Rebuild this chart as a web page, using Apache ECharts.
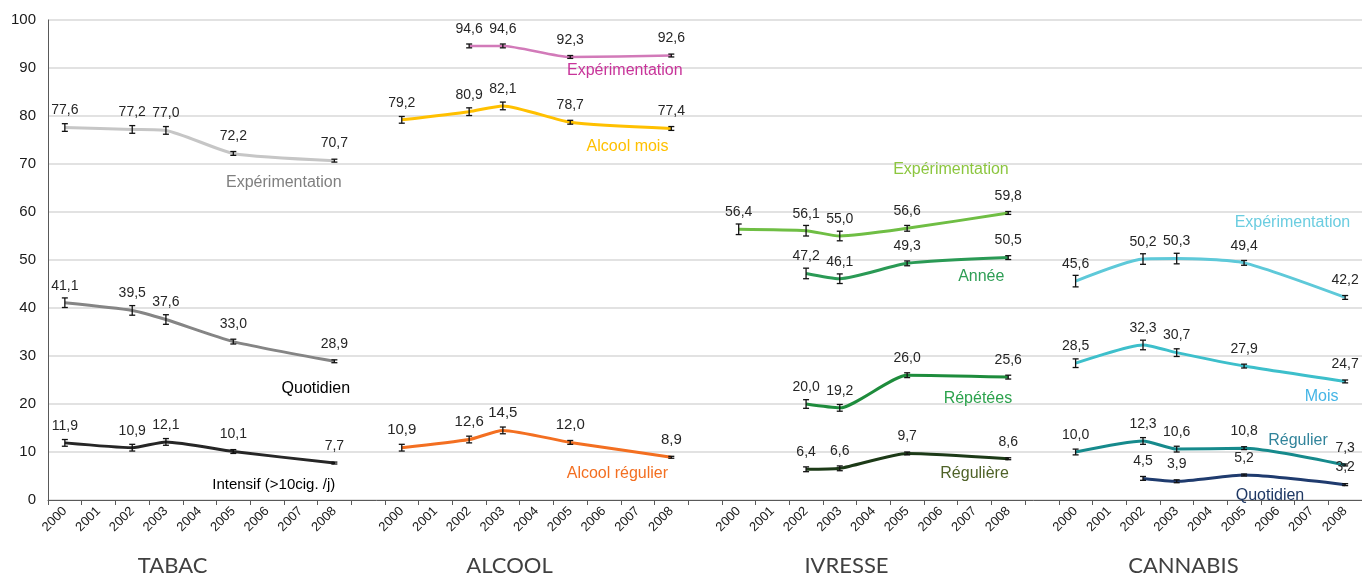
<!DOCTYPE html>
<html>
<head>
<meta charset="utf-8">
<script src="https://cdn.jsdelivr.net/npm/echarts@6/dist/echarts.min.js"></script>
<style>
  html, body { margin: 0; padding: 0; background: #fff; }
  #chart { width: 1362px; height: 579px; }
</style>
</head>
<body>
<div id="chart"></div>
<script>
// axes
var years = ['2000', '2001', '2002', '2003', '2004', '2005', '2006', '2007', '2008'];
var blocks = ['TABAC', 'ALCOOL', 'IVRESSE', 'CANNABIS'];
var yTicks = [0, 10, 20, 30, 40, 50, 60, 70, 80, 90, 100];

// values per year (null = no survey)
var tabacExp = [77.6, null, 77.2, 77.0, null, 72.2, null, null, 70.7];
var tabacQuot = [41.1, null, 39.5, 37.6, null, 33.0, null, null, 28.9];
var tabacInt = [11.9, null, 10.9, 12.1, null, 10.1, null, null, 7.7];
var alcExp = [null, null, 94.6, 94.6, null, 92.3, null, null, 92.6];
var alcMois = [79.2, null, 80.9, 82.1, null, 78.7, null, null, 77.4];
var alcReg = [10.9, null, 12.6, 14.5, null, 12.0, null, null, 8.9];
var ivrExp = [56.4, null, 56.1, 55.0, null, 56.6, null, null, 59.8];
var ivrAnnee = [null, null, 47.2, 46.1, null, 49.3, null, null, 50.5];
var ivrRep = [null, null, 20.0, 19.2, null, 26.0, null, null, 25.6];
var ivrReg = [null, null, 6.4, 6.6, null, 9.7, null, null, 8.6];
var canExp = [45.6, null, 50.2, 50.3, null, 49.4, null, null, 42.2];
var canMois = [28.5, null, 32.3, 30.7, null, 27.9, null, null, 24.7];
var canReg = [10.0, null, 12.3, 10.6, null, 10.8, null, null, 7.3];
var canQuot = [null, null, 4.5, 3.9, null, 5.2, null, null, 3.2];

// confidence half-widths (estimated)
var tabacExpErr = [0.8, null, 0.8, 0.8, null, 0.4, null, null, 0.3];
var tabacQuotErr = [1.0, null, 1.0, 1.0, null, 0.5, null, null, 0.3];
var tabacIntErr = [0.7, null, 0.7, 0.7, null, 0.4, null, null, 0.2];
var alcExpErr = [null, null, 0.4, 0.4, null, 0.3, null, null, 0.3];
var alcMoisErr = [0.7, null, 0.8, 0.8, null, 0.4, null, null, 0.4];
var alcRegErr = [0.7, null, 0.7, 0.7, null, 0.4, null, null, 0.2];
var ivrExpErr = [1.1, null, 1.1, 1.0, null, 0.6, null, null, 0.3];
var ivrAnneeErr = [null, null, 1.1, 1.0, null, 0.5, null, null, 0.4];
var ivrRepErr = [null, null, 0.9, 0.7, null, 0.5, null, null, 0.4];
var ivrRegErr = [null, null, 0.5, 0.5, null, 0.3, null, null, 0.2];
var canExpErr = [1.2, null, 1.1, 1.1, null, 0.5, null, null, 0.4];
var canMoisErr = [0.9, null, 1.0, 0.8, null, 0.4, null, null, 0.3];
var canRegErr = [0.6, null, 0.7, 0.6, null, 0.3, null, null, 0.2];
var canQuotErr = [null, null, 0.4, 0.3, null, 0.2, null, null, 0.2];

// series setup: block index, values, errors, look, where the name goes (data coords)
var lines = [
  {name: 'Expérimentation', block: 0, v: tabacExp, e: tabacExpErr, color: '#c6c6c6', txt: '#7f7f7f', at: [6.5, 66.2]},
  {name: 'Quotidien', block: 0, v: tabacQuot, e: tabacQuotErr, color: '#858585', txt: '#000', at: [7.45, 23.3]},
  {name: 'Intensif (>10cig. /j)', block: 0, v: tabacInt, e: tabacIntErr, color: '#262626', txt: '#000', at: [6.2, 3.1], fs: 15},
  {name: 'Expérimentation', block: 1, v: alcExp, e: alcExpErr, color: '#d27ab9', txt: '#c8349a', at: [16.62, 89.4], w: 2.5},
  {name: 'Alcool mois', block: 1, v: alcMois, e: alcMoisErr, color: '#ffc000', txt: '#ffc000', at: [16.7, 73.6]},
  {name: 'Alcool régulier', block: 1, v: alcReg, e: alcRegErr, color: '#f36f21', txt: '#f36f21', at: [16.4, 5.6], lfs: 15},
  {name: 'Expérimentation', block: 2, v: ivrExp, e: ivrExpErr, color: '#6fbe44', txt: '#8cc63f', at: [26.3, 68.9]},
  {name: 'Année', block: 2, v: ivrAnnee, e: ivrAnneeErr, color: '#2a9a55', txt: '#2e9e55', at: [27.2, 46.5]},
  {name: 'Répétées', block: 2, v: ivrRep, e: ivrRepErr, color: '#1e8c3c', txt: '#2ba24c', at: [27.1, 21.2]},
  {name: 'Régulière', block: 2, v: ivrReg, e: ivrRegErr, color: '#1c3a17', txt: '#4f6228', at: [27.0, 5.6]},
  {name: 'Expérimentation', block: 3, v: canExp, e: canExpErr, color: '#5ec9d9', txt: '#6bcde0', at: [34.72, 57.8], align: 'left'},
  {name: 'Mois', block: 3, v: canMois, e: canMoisErr, color: '#3dbfcb', txt: '#45b5e6', at: [37.3, 21.5]},
  {name: 'Régulier', block: 3, v: canReg, e: canRegErr, color: '#168a8c', txt: '#31849b', at: [36.6, 12.3]},
  {name: 'Quotidien', block: 3, v: canQuot, e: canQuotErr, color: '#1f3b6e', txt: '#1f3864', at: [35.77, 1.0]}
];

// one empty slot between blocks
var categories = [];
blocks.forEach(function (b, i) {
  years.forEach(function (y) { categories.push(y); });
  if (i < blocks.length - 1) categories.push('');
});
var slot = years.length + 1;

function fmt(v) { return v.toFixed(1).replace('.', ','); }

var series = [];
var errData = [];
lines.forEach(function (s) {
  var data = categories.map(function () { return null; });
  s.v.forEach(function (val, k) {
    if (val == null) return;
    data[s.block * slot + k] = val;
    errData.push([s.block * slot + k, val, s.e[k]]);
  });
  series.push({
    type: 'line',
    name: s.name,
    data: data,
    connectNulls: true,
    smooth: 0.2,
    symbol: 'circle',
    symbolSize: 0,
    lineStyle: {color: s.color, width: s.w || 3},
    itemStyle: {color: s.color},
    label: {
      show: true, position: 'top', distance: 10,
      color: '#262626', fontSize: s.lfs || 14,
      fontFamily: 'Liberation Sans',
      formatter: function (p) { return fmt(p.value); }
    },
    z: 2
  });
});

// error bars
series.push({
  type: 'custom',
  data: errData,
  z: 5,
  silent: true,
  renderItem: function (params, api) {
    var x = api.value(0), v = api.value(1), e = api.value(2);
    var top = api.coord([x, v + e]);
    var bot = api.coord([x, v - e]);
    var st = {stroke: '#111', lineWidth: 1.3};
    return {
      type: 'group',
      children: [
        {type: 'line', shape: {x1: top[0], y1: top[1], x2: bot[0], y2: bot[1]}, style: st},
        {type: 'line', shape: {x1: top[0] - 3, y1: top[1], x2: top[0] + 3, y2: top[1]}, style: st},
        {type: 'line', shape: {x1: bot[0] - 3, y1: bot[1], x2: bot[0] + 3, y2: bot[1]}, style: st}
      ]
    };
  }
});

var myChart = echarts.init(document.getElementById('chart'));
var option = {
  backgroundColor: '#fff',
  animation: false,
  textStyle: {fontFamily: 'Liberation Sans'},
  grid: {left: 48, top: 20, right: -1, bottom: 79},
  xAxis: {
    type: 'category',
    data: categories,
    boundaryGap: true,
    axisLine: {lineStyle: {color: '#595959', width: 1}},
    axisTick: {show: true, interval: 0, length: 5, lineStyle: {color: '#595959'}},
    axisLabel: {interval: 0, rotate: 45, fontSize: 13, fontFamily: 'Liberation Sans', color: '#1a1a1a', margin: 9},
    splitLine: {show: false}
  },
  yAxis: {
    type: 'value',
    min: yTicks[0],
    max: yTicks[yTicks.length - 1],
    interval: yTicks[1] - yTicks[0],
    axisLine: {show: true, lineStyle: {color: '#595959'}},
    axisTick: {show: false},
    axisLabel: {fontSize: 15, fontFamily: 'Liberation Sans', color: '#1a1a1a', margin: 12},
    splitLine: {lineStyle: {color: '#d9d9d9', width: 1.5}}
  },
  series: series
};
myChart.setOption(option);

// block titles and series names as text
var graphics = [];
blocks.forEach(function (b, i) {
  var px = myChart.convertToPixel({xAxisIndex: 0}, i * slot + 4);
  graphics.push({
    type: 'text', x: px - 27, y: 566,
    style: {text: b, fill: '#404040', fontSize: 22, fontWeight: 'normal', fontFamily: 'Lato',
      textAlign: 'center', textVerticalAlign: 'middle'}
  });
});
lines.forEach(function (s) {
  var x0 = myChart.convertToPixel({xAxisIndex: 0}, 0);
  var step = myChart.convertToPixel({xAxisIndex: 0}, 1) - x0;
  var xs = x0 + s.at[0] * step;
  var ys = myChart.convertToPixel({yAxisIndex: 0}, s.at[1]);
  graphics.push({
    type: 'text', x: xs, y: ys, z: 10,
    style: {text: s.name, fill: s.txt, fontSize: s.fs || 16, fontFamily: 'Liberation Sans',
      textAlign: s.align || 'center', textVerticalAlign: 'middle'}
  });
});
myChart.setOption({graphic: graphics});

window.addEventListener('resize', function () { myChart.resize(); });
</script>
</body>
</html>
